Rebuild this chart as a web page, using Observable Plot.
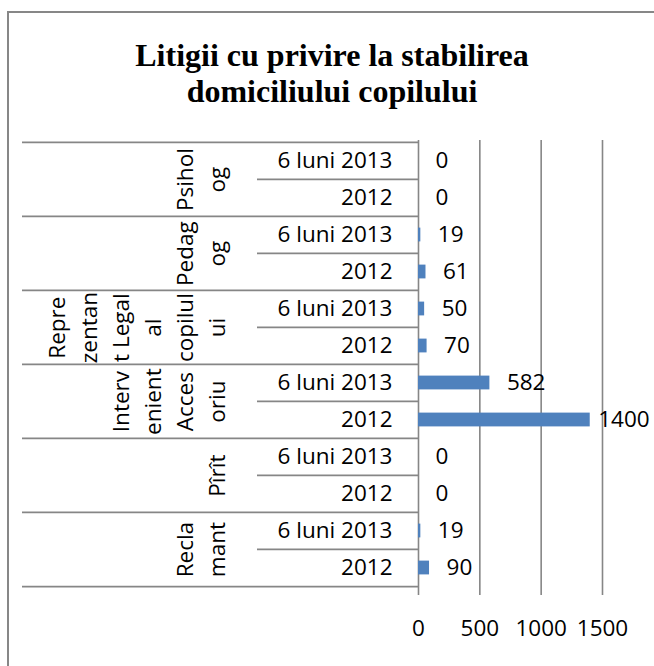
<!DOCTYPE html>
<html>
<head>
<meta charset="utf-8">
<script src="https://cdn.jsdelivr.net/npm/d3@7"></script>
<script src="https://cdn.jsdelivr.net/npm/@observablehq/plot@0.6"></script>
<style>
  html, body { margin: 0; padding: 0; background: #fff; }
  #wrap { position: relative; width: 654px; height: 666px; overflow: hidden; }
  #frame { position: absolute; left: 7px; top: 11px; width: 700px; height: 700px;
           border-left: 2px solid #878787; border-top: 2px solid #878787; box-sizing: border-box; }
  #title { position: relative; width: 664px; height: 128px; box-sizing: border-box; padding-top: 37px;
           text-align: center; font-family: "Liberation Serif", "DejaVu Serif", serif; font-weight: bold;
           font-size: 32px; line-height: 36px; color: #000; }
  #chart { position: relative; }
</style>
</head>
<body>
<div id="wrap">
  <div id="frame"></div>
  <div id="title">Litigii cu privire la stabilirea<br>domiciliului copilului</div>
  <div id="chart"></div>
</div>
<script>
// ---- data (top to bottom as drawn) ----
const groups = ["Psiholog", "Pedagog", "Reprezentant Legal al copilului", "Intervenient Accesoriu", "Pîrît", "Reclamant"];
const groupLabelLines = [
  ["Psihol", "og"],
  ["Pedag", "og"],
  ["Repre", "zentan", "t Legal", "al", "copilul", "ui"],
  ["Interv", "enient", "Acces", "oriu"],
  ["Pîrît"],
  ["Recla", "mant"]
];
const periods = ["6 luni 2013", "2012"];
const values2013 = [0, 19, 50, 582, 0, 19];
const values2012 = [0, 61, 70, 1400, 0, 90];
const xTicks = [0, 500, 1000, 1500];

// ---- build table ----
const rows = [];
groups.forEach((g, i) => {
  rows.push({group: g, period: periods[0], key: g + "|" + periods[0], value: values2013[i], first: true});
  rows.push({group: g, period: periods[1], key: g + "|" + periods[1], value: values2012[i], first: false});
});
const groupRows = groups.map((g, i) => ({key: g + "|" + periods[0], text: groupLabelLines[i].join("\n")}));

// ---- layout ----
const W = 654, H = 538;
const mTop = 12, mBottom = 79, mLeft = 418, mRight = 52;
const step = (H - mTop - mBottom) / rows.length;
const frameW = W - mLeft - mRight;
const grey = "#868686";
const font = "'Open Sans', sans-serif";
const fs = 22.5;

const chart = Plot.plot({
  width: W,
  height: H,
  marginTop: mTop,
  marginBottom: mBottom,
  marginLeft: mLeft,
  marginRight: mRight,
  style: {fontFamily: font, fontSize: fs + "px", color: "#000", background: "transparent"},
  x: {domain: [0, 1500], ticks: xTicks, label: null},
  y: {type: "band", domain: rows.map(d => d.key), padding: 0, label: null},
  marks: [
    // vertical gridlines + axis line, with tick extension below
    Plot.ruleX(xTicks, {stroke: grey, strokeWidth: 1.6, insetBottom: -8}),
    // inner separators (between periods)
    Plot.tickY(rows.filter(d => !d.first), {y: "key", dy: -step / 2, stroke: grey, strokeWidth: 1.6,
      insetLeft: -(mLeft - 257), insetRight: frameW}),
    // group separators
    Plot.tickY(rows.filter(d => d.first), {y: "key", dy: -step / 2, stroke: grey, strokeWidth: 1.6,
      insetLeft: -(mLeft - 22), insetRight: frameW}),
    Plot.tickY(rows.slice(-1), {y: "key", dy: step / 2, stroke: grey, strokeWidth: 1.6,
      insetLeft: -(mLeft - 22), insetRight: frameW}),
    // bars
    Plot.barX(rows, {x: "value", y: "key", fill: "#4F81BD", insetTop: 11.6, insetBottom: 11.6}),
    // data labels
    Plot.text(rows.filter(d => d.value < 1000), {x: "value", y: "key", text: d => String(d.value),
      textAnchor: "start", dx: 17, fill: "#000"}),
    Plot.text(rows.filter(d => d.value >= 1000), {x: "value", y: "key", text: d => String(d.value),
      textAnchor: "start", dx: 8, fill: "#000"}),
    // period labels
    Plot.axisY({tickSize: 0, tickPadding: 26, tickFormat: k => k.split("|")[1], label: null, fill: "#000"}),
    // group labels (rotated, wrapped)
    Plot.text(groupRows, {y: "key", text: "text", rotate: -90, frameAnchor: "left", dx: 224 - mLeft, dy: step / 2,
      textAnchor: "middle", lineAnchor: "bottom", lineHeight: 32 / fs, fill: "#000"}),
    // x axis labels
    Plot.axisX({ticks: xTicks, tickSize: 0, tickPadding: 33, tickFormat: d => String(d), label: null, fill: "#000"})
  ]
});
document.getElementById("chart").appendChild(chart);
</script>
</body>
</html>
